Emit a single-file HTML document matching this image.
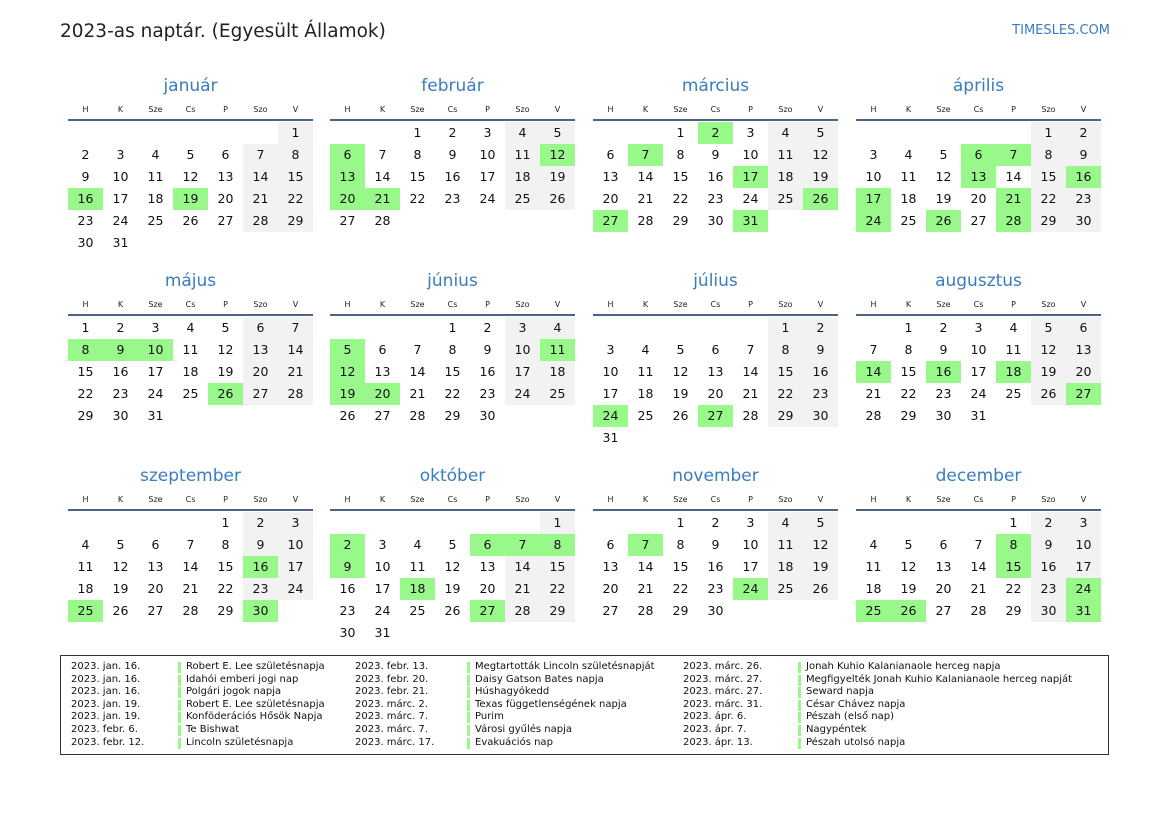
<!DOCTYPE html>
<html><head><meta charset="utf-8"><style>
body{margin:0;width:1169px;height:827px;background:#fff;position:relative;font-family:"DejaVu Sans","Liberation Sans",sans-serif;color:#111;overflow:hidden}
.t{position:absolute;left:60px;top:21px;font-size:18.5px;color:#222}
.site{position:absolute;right:59px;top:23px;font-size:13px;color:#3a7cc0}
.m{position:absolute;width:245px}
.mt{position:absolute;top:1px;width:245px;text-align:center;font-size:17px;color:#3a7cc0;line-height:22px}
.hd{position:absolute;top:31px;display:grid;grid-template-columns:repeat(7,35px);font-size:8px;text-align:center;color:#222}
.ln{position:absolute;top:45px;left:0;width:245px;height:2px;background:#4a6488}
.g7{position:absolute;top:48px;display:grid;grid-template-columns:repeat(7,35px);grid-auto-rows:22px;font-size:12.5px;text-align:center}
.g7 span{line-height:22px}
.g7 span:nth-child(7n+6):not(:empty),.g7 span:nth-child(7n):not(:empty){background:#f2f2f2}
.g7 span.g{background:#98f98a!important}
.lg{position:absolute;left:60px;top:655px;width:1047px;height:98px;border:1.5px solid #333}
.col{position:absolute;top:5px;font-size:10px;line-height:12.6px;white-space:nowrap;color:#111}
.nm div{position:relative;padding-left:8px}
.nm div:before{content:"";position:absolute;left:0;top:1px;width:3px;height:11px;background:#98f98a}
</style></head><body>
<div class="t">2023-as naptár. (Egyesült Államok)</div>
<div class="site">TIMESLES.COM</div>

<div class="m" style="left:68px;top:74px"><div class="mt">január</div><div class="hd"><span>H</span><span>K</span><span>Sze</span><span>Cs</span><span>P</span><span>Szo</span><span>V</span></div><div class="ln"></div><div class="g7"><span></span><span></span><span></span><span></span><span></span><span></span><span>1</span><span>2</span><span>3</span><span>4</span><span>5</span><span>6</span><span>7</span><span>8</span><span>9</span><span>10</span><span>11</span><span>12</span><span>13</span><span>14</span><span>15</span><span class=g>16</span><span>17</span><span>18</span><span class=g>19</span><span>20</span><span>21</span><span>22</span><span>23</span><span>24</span><span>25</span><span>26</span><span>27</span><span>28</span><span>29</span><span>30</span><span>31</span></div></div>

<div class="m" style="left:330px;top:74px"><div class="mt">február</div><div class="hd"><span>H</span><span>K</span><span>Sze</span><span>Cs</span><span>P</span><span>Szo</span><span>V</span></div><div class="ln"></div><div class="g7"><span></span><span></span><span>1</span><span>2</span><span>3</span><span>4</span><span>5</span><span class=g>6</span><span>7</span><span>8</span><span>9</span><span>10</span><span>11</span><span class=g>12</span><span class=g>13</span><span>14</span><span>15</span><span>16</span><span>17</span><span>18</span><span>19</span><span class=g>20</span><span class=g>21</span><span>22</span><span>23</span><span>24</span><span>25</span><span>26</span><span>27</span><span>28</span></div></div>

<div class="m" style="left:593px;top:74px"><div class="mt">március</div><div class="hd"><span>H</span><span>K</span><span>Sze</span><span>Cs</span><span>P</span><span>Szo</span><span>V</span></div><div class="ln"></div><div class="g7"><span></span><span></span><span>1</span><span class=g>2</span><span>3</span><span>4</span><span>5</span><span>6</span><span class=g>7</span><span>8</span><span>9</span><span>10</span><span>11</span><span>12</span><span>13</span><span>14</span><span>15</span><span>16</span><span class=g>17</span><span>18</span><span>19</span><span>20</span><span>21</span><span>22</span><span>23</span><span>24</span><span>25</span><span class=g>26</span><span class=g>27</span><span>28</span><span>29</span><span>30</span><span class=g>31</span></div></div>

<div class="m" style="left:856px;top:74px"><div class="mt">április</div><div class="hd"><span>H</span><span>K</span><span>Sze</span><span>Cs</span><span>P</span><span>Szo</span><span>V</span></div><div class="ln"></div><div class="g7"><span></span><span></span><span></span><span></span><span></span><span>1</span><span>2</span><span>3</span><span>4</span><span>5</span><span class=g>6</span><span class=g>7</span><span>8</span><span>9</span><span>10</span><span>11</span><span>12</span><span class=g>13</span><span>14</span><span>15</span><span class=g>16</span><span class=g>17</span><span>18</span><span>19</span><span>20</span><span class=g>21</span><span>22</span><span>23</span><span class=g>24</span><span>25</span><span class=g>26</span><span>27</span><span class=g>28</span><span>29</span><span>30</span></div></div>

<div class="m" style="left:68px;top:269px"><div class="mt">május</div><div class="hd"><span>H</span><span>K</span><span>Sze</span><span>Cs</span><span>P</span><span>Szo</span><span>V</span></div><div class="ln"></div><div class="g7"><span>1</span><span>2</span><span>3</span><span>4</span><span>5</span><span>6</span><span>7</span><span class=g>8</span><span class=g>9</span><span class=g>10</span><span>11</span><span>12</span><span>13</span><span>14</span><span>15</span><span>16</span><span>17</span><span>18</span><span>19</span><span>20</span><span>21</span><span>22</span><span>23</span><span>24</span><span>25</span><span class=g>26</span><span>27</span><span>28</span><span>29</span><span>30</span><span>31</span></div></div>

<div class="m" style="left:330px;top:269px"><div class="mt">június</div><div class="hd"><span>H</span><span>K</span><span>Sze</span><span>Cs</span><span>P</span><span>Szo</span><span>V</span></div><div class="ln"></div><div class="g7"><span></span><span></span><span></span><span>1</span><span>2</span><span>3</span><span>4</span><span class=g>5</span><span>6</span><span>7</span><span>8</span><span>9</span><span>10</span><span class=g>11</span><span class=g>12</span><span>13</span><span>14</span><span>15</span><span>16</span><span>17</span><span>18</span><span class=g>19</span><span class=g>20</span><span>21</span><span>22</span><span>23</span><span>24</span><span>25</span><span>26</span><span>27</span><span>28</span><span>29</span><span>30</span></div></div>

<div class="m" style="left:593px;top:269px"><div class="mt">július</div><div class="hd"><span>H</span><span>K</span><span>Sze</span><span>Cs</span><span>P</span><span>Szo</span><span>V</span></div><div class="ln"></div><div class="g7"><span></span><span></span><span></span><span></span><span></span><span>1</span><span>2</span><span>3</span><span>4</span><span>5</span><span>6</span><span>7</span><span>8</span><span>9</span><span>10</span><span>11</span><span>12</span><span>13</span><span>14</span><span>15</span><span>16</span><span>17</span><span>18</span><span>19</span><span>20</span><span>21</span><span>22</span><span>23</span><span class=g>24</span><span>25</span><span>26</span><span class=g>27</span><span>28</span><span>29</span><span>30</span><span>31</span></div></div>

<div class="m" style="left:856px;top:269px"><div class="mt">augusztus</div><div class="hd"><span>H</span><span>K</span><span>Sze</span><span>Cs</span><span>P</span><span>Szo</span><span>V</span></div><div class="ln"></div><div class="g7"><span></span><span>1</span><span>2</span><span>3</span><span>4</span><span>5</span><span>6</span><span>7</span><span>8</span><span>9</span><span>10</span><span>11</span><span>12</span><span>13</span><span class=g>14</span><span>15</span><span class=g>16</span><span>17</span><span class=g>18</span><span>19</span><span>20</span><span>21</span><span>22</span><span>23</span><span>24</span><span>25</span><span>26</span><span class=g>27</span><span>28</span><span>29</span><span>30</span><span>31</span></div></div>

<div class="m" style="left:68px;top:464px"><div class="mt">szeptember</div><div class="hd"><span>H</span><span>K</span><span>Sze</span><span>Cs</span><span>P</span><span>Szo</span><span>V</span></div><div class="ln"></div><div class="g7"><span></span><span></span><span></span><span></span><span>1</span><span>2</span><span>3</span><span>4</span><span>5</span><span>6</span><span>7</span><span>8</span><span>9</span><span>10</span><span>11</span><span>12</span><span>13</span><span>14</span><span>15</span><span class=g>16</span><span>17</span><span>18</span><span>19</span><span>20</span><span>21</span><span>22</span><span>23</span><span>24</span><span class=g>25</span><span>26</span><span>27</span><span>28</span><span>29</span><span class=g>30</span></div></div>

<div class="m" style="left:330px;top:464px"><div class="mt">október</div><div class="hd"><span>H</span><span>K</span><span>Sze</span><span>Cs</span><span>P</span><span>Szo</span><span>V</span></div><div class="ln"></div><div class="g7"><span></span><span></span><span></span><span></span><span></span><span></span><span>1</span><span class=g>2</span><span>3</span><span>4</span><span>5</span><span class=g>6</span><span class=g>7</span><span class=g>8</span><span class=g>9</span><span>10</span><span>11</span><span>12</span><span>13</span><span>14</span><span>15</span><span>16</span><span>17</span><span class=g>18</span><span>19</span><span>20</span><span>21</span><span>22</span><span>23</span><span>24</span><span>25</span><span>26</span><span class=g>27</span><span>28</span><span>29</span><span>30</span><span>31</span></div></div>

<div class="m" style="left:593px;top:464px"><div class="mt">november</div><div class="hd"><span>H</span><span>K</span><span>Sze</span><span>Cs</span><span>P</span><span>Szo</span><span>V</span></div><div class="ln"></div><div class="g7"><span></span><span></span><span>1</span><span>2</span><span>3</span><span>4</span><span>5</span><span>6</span><span class=g>7</span><span>8</span><span>9</span><span>10</span><span>11</span><span>12</span><span>13</span><span>14</span><span>15</span><span>16</span><span>17</span><span>18</span><span>19</span><span>20</span><span>21</span><span>22</span><span>23</span><span class=g>24</span><span>25</span><span>26</span><span>27</span><span>28</span><span>29</span><span>30</span></div></div>

<div class="m" style="left:856px;top:464px"><div class="mt">december</div><div class="hd"><span>H</span><span>K</span><span>Sze</span><span>Cs</span><span>P</span><span>Szo</span><span>V</span></div><div class="ln"></div><div class="g7"><span></span><span></span><span></span><span></span><span>1</span><span>2</span><span>3</span><span>4</span><span>5</span><span>6</span><span>7</span><span class=g>8</span><span>9</span><span>10</span><span>11</span><span>12</span><span>13</span><span>14</span><span class=g>15</span><span>16</span><span>17</span><span>18</span><span>19</span><span>20</span><span>21</span><span>22</span><span>23</span><span class=g>24</span><span class=g>25</span><span class=g>26</span><span>27</span><span>28</span><span>29</span><span>30</span><span class=g>31</span></div></div>

<div class="lg">
<div class="col" style="left:10px"><div>2023. jan. 16.</div><div>2023. jan. 16.</div><div>2023. jan. 16.</div><div>2023. jan. 19.</div><div>2023. jan. 19.</div><div>2023. febr. 6.</div><div>2023. febr. 12.</div></div>
<div class="col nm" style="left:117px"><div>Robert E. Lee születésnapja</div><div>Idahói emberi jogi nap</div><div>Polgári jogok napja</div><div>Robert E. Lee születésnapja</div><div>Konföderációs Hősök Napja</div><div>Te Bishwat</div><div>Lincoln születésnapja</div></div>
<div class="col" style="left:294px"><div>2023. febr. 13.</div><div>2023. febr. 20.</div><div>2023. febr. 21.</div><div>2023. márc. 2.</div><div>2023. márc. 7.</div><div>2023. márc. 7.</div><div>2023. márc. 17.</div></div>
<div class="col nm" style="left:406px"><div>Megtartották Lincoln születésnapját</div><div>Daisy Gatson Bates napja</div><div>Húshagyókedd</div><div>Texas függetlenségének napja</div><div>Purim</div><div>Városi gyűlés napja</div><div>Evakuációs nap</div></div>
<div class="col" style="left:622px"><div>2023. márc. 26.</div><div>2023. márc. 27.</div><div>2023. márc. 27.</div><div>2023. márc. 31.</div><div>2023. ápr. 6.</div><div>2023. ápr. 7.</div><div>2023. ápr. 13.</div></div>
<div class="col nm" style="left:737px"><div>Jonah Kuhio Kalanianaole herceg napja</div><div>Megfigyelték Jonah Kuhio Kalanianaole herceg napját</div><div>Seward napja</div><div>César Chávez napja</div><div>Pészah (első nap)</div><div>Nagypéntek</div><div>Pészah utolsó napja</div></div>
</div>
</body></html>
